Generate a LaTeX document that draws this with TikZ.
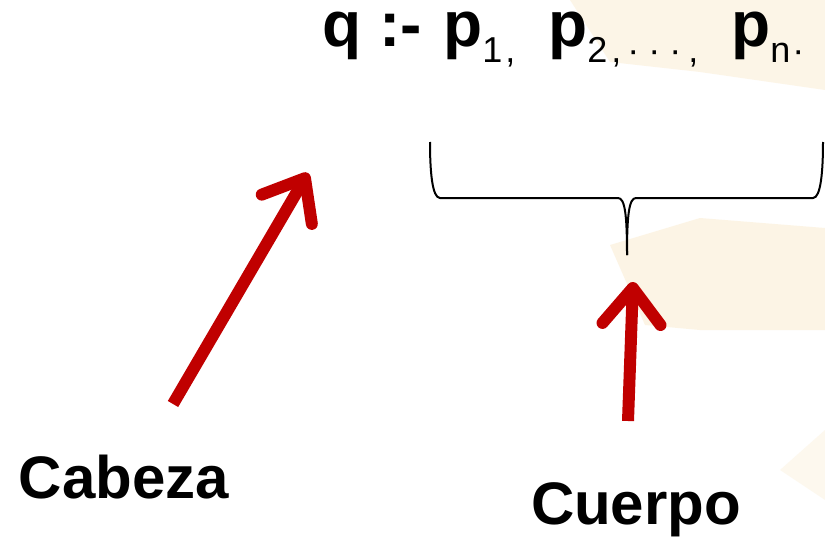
\documentclass[tikz,border=0pt]{standalone}
\usepackage{fontspec}
\setmainfont{Liberation Sans}
\usetikzlibrary{arrows.meta}
\definecolor{arrowred}{RGB}{192,0,0}
\definecolor{beige}{RGB}{251,236,208}
\newcommand{\sbs}[1]{\raisebox{-16pt}{\fontsize{36}{36}\selectfont\mdseries #1}}
\tikzset{
  bigtext/.style={font=\fontsize{60}{60}\selectfont\bfseries, inner sep=0pt},
  titletext/.style={font=\fontsize{64}{64}\selectfont\bfseries, inner sep=0pt, anchor=base west},
  redarrow/.style={draw=arrowred, line width=12pt, -{Straight Barb[length=36pt,width=58pt,round]}},
  bracestyle/.style={draw=black, line width=2pt, line join=round},
  bg/.style={fill=beige, draw=none}
}
\begin{document}
\begin{tikzpicture}[x=1pt,y=-1pt]
\useasboundingbox (0,0) rectangle (825,543);
\fill[white] (0,0) rectangle (825,543);
% faint slide background
\fill[bg, opacity=0.5] (570,0) -- (825,0) -- (825,90) -- (700,72) -- (610,62) -- cycle;
\fill[bg, opacity=0.55] (610,245) -- (700,218) -- (825,228) -- (825,330) -- (700,330) -- (645,325) -- cycle;
\fill[bg, opacity=0.35] (780,470) -- (825,430) -- (825,500) -- cycle;
% title
\node[titletext] (head) at (322,47) {q};
\node[titletext] (neck) at (379,47) {:-};
\node[titletext] (p1) at (443,47) {p\sbs{1\hspace{3pt},}};
\node[titletext] (p2) at (548,47) {p\sbs{2\hspace{4pt},\hspace{6pt}·\hspace{9pt}·\hspace{9pt}·\hspace{7pt},}};
\node[titletext] (pn) at (731,47) {p\sbs{n\hspace{2pt}·}};
% brace
\coordinate (bl) at (430,142);
\coordinate (br) at (823,142);
\coordinate (btip) at (627,255);
\draw[bracestyle] (bl) .. controls (430,170) and (432,198) .. (440,198) -- (618,198)
  .. controls (625,198) and (627,215) .. (btip);
\draw[bracestyle] (br) .. controls (823,170) and (821,198) .. (813,198) -- (636,198)
  .. controls (629,198) and (627,215) .. (btip);
% labels
\node[bigtext, anchor=base] (cabeza) at (124,498) {Cabeza};
\node[bigtext, anchor=base] (cuerpo) at (636,524) {Cuerpo};
% arrows
\coordinate (tailL) at (173,404);
\coordinate (tipL) at (308,173);
\coordinate (tailR) at (628,421);
\coordinate (tipR) at (633,282);
\draw[redarrow] (tailL) -- (tipL);
\draw[redarrow] (tailR) -- (tipR);
\end{tikzpicture}
\end{document}
